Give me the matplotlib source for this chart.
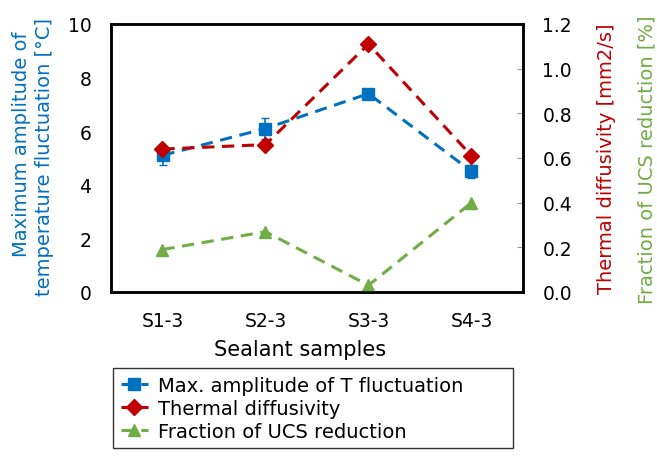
import numpy as np
import matplotlib
matplotlib.use('Agg')
import matplotlib.pyplot as plt

plt.rcParams['font.family'] = ['DejaVu Sans']

samples = ['S1-3', 'S2-3', 'S3-3', 'S4-3']
amp = [5.1, 6.1, 7.4, 4.5]          # max amplitude of T fluctuation [degC]
amp_err = [0.35, 0.4, 0.15, 0.25]
diff = [0.64, 0.66, 1.11, 0.61]     # thermal diffusivity [mm2/s]
ucs = [0.19, 0.27, 0.03, 0.40]      # fraction of UCS reduction

blue = '#0070C0'
red = '#C00000'
green = '#70AD47'
fs = 13.5

W, H = 657, 460
fig = plt.figure(figsize=(6.57, 4.6), dpi=100)
ax = fig.add_axes([111/W, 1 - 293/H, (523-111)/W, (293-25)/H])
ax2 = ax.twinx()

x = np.arange(1, len(samples) + 1)
l1 = ax.errorbar(x, amp, yerr=amp_err, color=blue, ls='--', lw=2.2, dashes=(4, 2.5),
                 marker='s', ms=8, capsize=3, elinewidth=1.2,
                 label='Max. amplitude of T fluctuation')
l1[0].set_label('Max. amplitude of T fluctuation')
l2, = ax2.plot(x, diff, color=red, ls='--', lw=2.2, dashes=(4, 2.5), marker='D', ms=8,
               label='Thermal diffusivity')
l3, = ax2.plot(x, ucs, color=green, ls='--', lw=2.2, dashes=(4, 2.5), marker='^', ms=9,
               label='Fraction of UCS reduction')

ax.set_xlim(0.5, 4.5)
ax.set_ylim(0, 10)
ax2.set_ylim(0, 1.2)
ax.set_xticks(x)
ax.set_xticklabels(samples)
ax.set_yticks(np.arange(0, 11, 2))
ax2.set_yticks(np.arange(0, 1.21, 0.2))
ax2.set_yticklabels(['%.1f' % v for v in np.arange(0, 1.21, 0.2)])
ax.tick_params(axis='x', labelsize=fs, length=0, pad=14)
ax.tick_params(axis='y', labelsize=fs, length=0, pad=14)
ax2.tick_params(axis='y', labelsize=fs, direction='in', length=4, color='#999999', pad=14)

for sp in ax.spines.values():
    sp.set_linewidth(1.8)
for sp in ax2.spines.values():
    sp.set_linewidth(1.8)

# axis titles placed in pixel positions of the reference
fig.text(300/W, 1 - 350/H, 'Sealant samples', fontsize=15, ha='center', va='center')
fig.text(22/W, 1 - 144/H, 'Maximum amplitude of', fontsize=fs + 0.5, color=blue,
         rotation=90, ha='center', va='center')
fig.text(45/W, 1 - 157/H, 'temperature fluctuation [°C]', fontsize=fs + 0.5, color=blue,
         rotation=90, ha='center', va='center')
fig.text(607/W, 1 - 159/H, 'Thermal diffusivity [mm2/s]', fontsize=fs + 0.5, color=red,
         rotation=90, ha='center', va='center')
fig.text(647/W, 1 - 160/H, 'Fraction of UCS reduction [%]', fontsize=fs + 0.5, color=green,
         rotation=90, ha='center', va='center')

leg = fig.legend(handles=[l1[0], l2, l3], loc='upper left',
                 bbox_to_anchor=(113/W, 1 - 369/H, 400/W, 0), mode='expand',
                 fontsize=fs + 0.5,
                 frameon=True, fancybox=False, edgecolor='black',
                 handlelength=1.4, handletextpad=0.5, labelspacing=0.2,
                 borderpad=0.4, borderaxespad=0)
leg.get_frame().set_linewidth(1.0)

fig.savefig('out.png', dpi=100)
